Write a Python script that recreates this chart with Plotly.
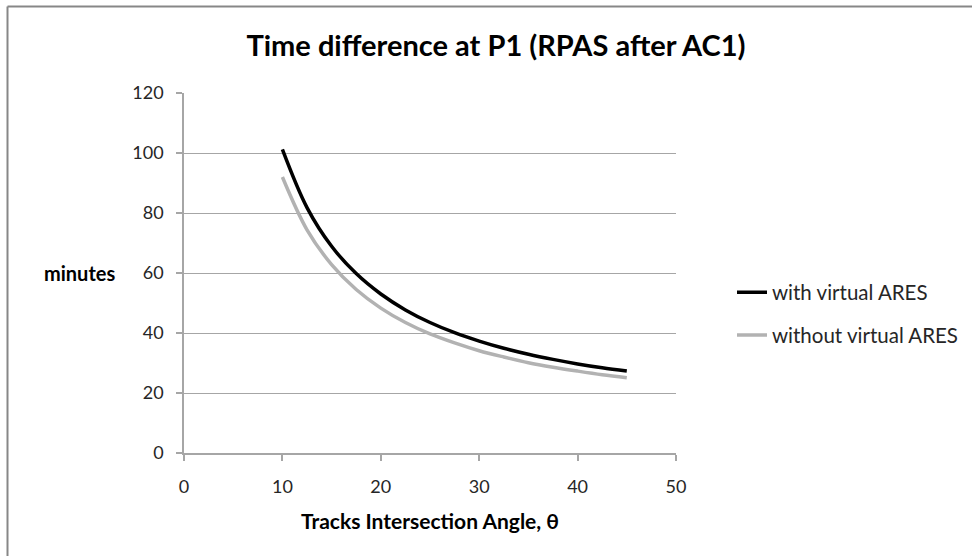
import plotly.graph_objects as go

angles = [10, 12.5, 15, 17.5, 20, 22.5, 25, 27.5, 30, 32.5, 35, 37.5, 40, 42.5, 45]
with_ares = [101.2, 81.8, 68.9, 59.8, 53.0, 47.7, 43.5, 40.1, 37.3, 34.9, 32.9, 31.2, 29.7, 28.4, 27.3]
without_ares = [92.0, 74.4, 62.8, 54.5, 48.3, 43.5, 39.7, 36.7, 34.1, 32.0, 30.1, 28.6, 27.3, 26.1, 25.1]

x_ticks = [0, 10, 20, 30, 40, 50]
y_ticks = [0, 20, 40, 60, 80, 100, 120]

FONT = "Lato, 'Open Sans', sans-serif"

fig = go.Figure()
fig.add_trace(go.Scatter(x=angles, y=with_ares, mode="lines", name="with virtual ARES",
                         line=dict(color="#000000", width=3.5, shape="spline"),
                         legendgroup="a"))
fig.add_trace(go.Scatter(x=angles, y=without_ares, mode="lines", name="without virtual ARES",
                         line=dict(color="#b2b2b2", width=3.5, shape="spline"),
                         legendgroup="b"))

L, R, T, B = 184, 296, 93, 103
W, H = 972, 556
pw, ph = W - L - R, H - T - B

def px(xp):
    return (xp - L) / pw

def py(yp):
    return (H - B - yp) / ph

fig.update_layout(
    width=W, height=H,
    margin=dict(l=L, r=R, t=T, b=B, autoexpand=False),
    paper_bgcolor="white", plot_bgcolor="white",
    font=dict(family=FONT, size=18, color="#262626"),
    title=dict(text="<b>Time difference at P1 (RPAS after AC1)</b>",
               x=496 / W, xanchor="center", y=1 - 46 / H, yanchor="middle",
               font=dict(family=FONT, size=29, color="#000000")),
    xaxis=dict(range=[0, 50], tickvals=x_ticks, showgrid=False, zeroline=False,
               showline=True, linecolor="#a6a6a6", linewidth=1.5,
               ticks="outside", ticklen=6, tickcolor="#a6a6a6", tickwidth=1.5,
               ticklabelstandoff=11,
               title=dict(text="<b>Tracks Intersection Angle, θ</b>", standoff=18,
                          font=dict(family=FONT, size=21, color="#000000"))),
    yaxis=dict(range=[0, 120], tickvals=y_ticks, showgrid=True, gridcolor="#a6a6a6",
               gridwidth=1.2, zeroline=False,
               showline=True, linecolor="#a6a6a6", linewidth=1.5,
               ticks="outside", ticklen=6, tickcolor="#a6a6a6", tickwidth=1.5,
               ticklabelstandoff=9,
               title=None),
    showlegend=True,
    legend=dict(x=px(732), xanchor="left", y=py(314), yanchor="middle",
                tracegroupgap=13, bgcolor="rgba(0,0,0,0)",
                font=dict(family=FONT, size=20.5, color="#262626")),
)

fig.add_annotation(text="<b>minutes</b>", xref="paper", yref="paper",
                   x=px(117), xanchor="right", y=py(273), yanchor="middle",
                   showarrow=False, font=dict(family=FONT, size=20, color="#000000"))

# outer frame (only top and left edges are visible in the reference)
fig.add_shape(type="line", xref="paper", yref="paper",
              x0=px(7.5), x1=px(W), y0=py(6.5), y1=py(6.5),
              line=dict(color="#878787", width=2), layer="below")
fig.add_shape(type="line", xref="paper", yref="paper",
              x0=px(7.5), x1=px(7.5), y0=py(6.5), y1=py(H),
              line=dict(color="#878787", width=2), layer="below")

fig.write_html("out.html", config={"displayModeBar": False},
               post_script="document.body.style.margin='0';")
